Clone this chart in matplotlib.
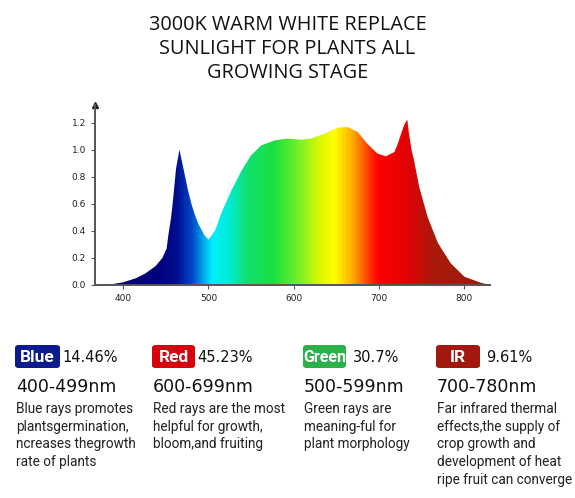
import numpy as np
import matplotlib
matplotlib.use("Agg")
import matplotlib.pyplot as plt
from matplotlib.colors import LinearSegmentedColormap
from matplotlib.patches import Polygon, FancyBboxPatch

# spectrum (nm, relative intensity)
wavelength = [376, 386, 400, 415, 426, 438, 446, 451, 453, 456, 458, 462, 466, 469, 472,
              476, 480, 484, 488, 495, 500, 508, 515, 527, 539, 550, 562, 578, 593,
              609, 620, 636, 651, 663, 675, 686, 698, 708, 718, 722, 727, 730, 733,
              735, 738, 741, 747, 757, 769, 784, 800, 819, 830]
intensity = [0.0, 0.005, 0.02, 0.05, 0.085, 0.14, 0.20, 0.27, 0.37, 0.49, 0.60, 0.86, 1.0, 0.91,
             0.82, 0.70, 0.60, 0.52, 0.455, 0.37, 0.335, 0.405, 0.53, 0.70, 0.848, 0.959, 1.032,
             1.069, 1.082, 1.074, 1.082, 1.118, 1.163, 1.167, 1.131, 1.045, 0.971, 0.951, 0.983,
             1.045, 1.14, 1.19, 1.222, 1.12, 1.0, 0.92, 0.725, 0.50, 0.31, 0.16, 0.061, 0.017, 0.0]

title = "3000K WARM WHITE REPLACE\nSUNLIGHT FOR PLANTS ALL\nGROWING STAGE"
yticks = [0.0, 0.2, 0.4, 0.6, 0.8, 1.0, 1.2]
xticks = [400, 500, 600, 700, 800]

bands = ["Blue", "Red", "Green", "IR"]
shares = ["14.46%", "45.23%", "30.7%", "9.61%"]
ranges = ["400-499nm", "600-699nm", "500-599nm", "700-780nm"]
notes = ["Blue rays promotes\nplantsgermination,\nncreases thegrowth\nrate of plants",
         "Red rays are the most\nhelpful for growth,\nbloom,and fruiting",
         "Green rays are\nmeaning-ful for\nplant morphology",
         "Far infrared thermal\neffects,the supply of\ncrop growth and\ndevelopment of heat\nripe fruit can converge"]
badge_colors = ["#0b1a8c", "#d8000e", "#2bb04a", "#a3180e"]

W, H = 575, 498
fig = plt.figure(figsize=(W / 100, H / 100), dpi=100)

def fx(x):
    return x / W

def fy(y):
    return 1 - y / H

fig.text(0.5, fy(49), title, ha="center", va="center", fontsize=14.3,
         family="Open Sans", linespacing=1.3, color="#111111")

ax = fig.add_axes([fx(95), fy(285), fx(490) - fx(95), fy(105) - fy(285)])
x0, x1, y1 = 367, 830, 1.33
ax.set_xlim(x0, x1)
ax.set_ylim(0, y1)

# spectral gradient clipped to the curve
stops = [(367, "#00006e"), (440, "#00007e"), (462, "#000e8e"), (480, "#0046c8"),
         (496, "#00b8f0"), (504, "#00f0ff"), (525, "#00ecd0"), (545, "#10e070"),
         (575, "#18e040"), (605, "#70f028"), (630, "#d8f800"), (648, "#ffff00"),
         (670, "#ffa800"), (688, "#ff3c00"), (700, "#ff0000"), (735, "#e00404"),
         (765, "#a81a0c"), (830, "#9a1a0a")]
cmap = LinearSegmentedColormap.from_list(
    "spec", [((w - x0) / (x1 - x0), c) for w, c in stops])
grad = np.linspace(0, 1, 600).reshape(1, -1)
im = ax.imshow(grad, cmap=cmap, extent=[x0, x1, 0, y1], aspect="auto", origin="lower")
poly = Polygon(np.column_stack([wavelength, intensity]), closed=True,
               transform=ax.transData, facecolor="none", edgecolor="none")
ax.add_patch(poly)
im.set_clip_path(poly)

for s in ["top", "right"]:
    ax.spines[s].set_visible(False)
for s in ["left", "bottom"]:
    ax.spines[s].set_color("#555555")
    ax.spines[s].set_linewidth(1.4)
ax.plot([0], [1], marker="^", color="#222222", markersize=5,
        transform=ax.transAxes, clip_on=False)

ax.set_yticks(yticks)
ax.set_yticklabels([f"{v:.1f}" for v in yticks])
ax.set_xticks(xticks)
ax.tick_params(axis="both", labelsize=6.5, colors="#555555", length=3, width=0.8,
               labelcolor="#222222")

# legend blocks below the chart
badge_x = [15, 152, 303, 436]
badge_w = [45, 43, 43, 44]
pct_x = [62, 197, 353, 486]
for i in range(4):
    bx, bw = badge_x[i], badge_w[i]
    box = FancyBboxPatch((fx(bx), fy(368)), fx(bw), fy(345) - fy(368),
                         boxstyle="round,pad=0,rounding_size=0.006",
                         transform=fig.transFigure, facecolor=badge_colors[i],
                         edgecolor="none")
    fig.add_artist(box)
    fig.text(fx(bx + bw / 2), fy(357), bands[i], ha="center", va="center",
             color="white", fontsize=11.5 if bands[i] == "Green" else 12.5,
             fontweight="bold", family="Roboto")
    fig.text(fx(pct_x[i]), fy(357), shares[i], ha="left", va="center",
             fontsize=10.5, family="DejaVu Sans", color="#111111")
    fig.text(fx(bx + 1), fy(387), ranges[i], ha="left", va="center",
             fontsize=12.5, family="DejaVu Sans", color="#111111")
    fig.text(fx(bx + 1), fy(402), notes[i], ha="left", va="top",
             fontsize=9.8, family="Roboto", linespacing=1.33, color="#222222")

fig.savefig("out.png", dpi=100, facecolor="white")
